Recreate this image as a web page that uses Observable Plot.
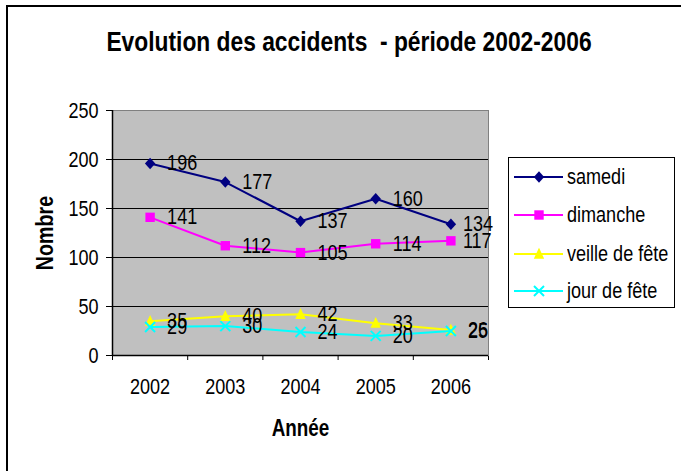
<!DOCTYPE html>
<html><head><meta charset="utf-8">
<script src="https://cdn.jsdelivr.net/npm/d3@7"></script>
<script src="https://cdn.jsdelivr.net/npm/@observablehq/plot@0.6"></script>
<style>
html,body{margin:0;padding:0;background:#fff;overflow:hidden;}
#wrap{position:relative;width:681px;height:471px;overflow:hidden;background:#fff;}
#border{position:absolute;left:6px;top:5px;width:900px;height:700px;border-left:2px solid #000;border-top:2px solid #000;box-sizing:border-box;}
#title{position:absolute;left:0;top:26px;width:698px;text-align:center;font-weight:bold;white-space:pre;line-height:32px;color:#000;transform-origin:349px 50%;}
#chart{position:absolute;left:0;top:0;}
#legend{position:absolute;left:508px;top:157px;width:167px;height:151px;border:1px solid #000;box-sizing:border-box;background:#fff;}
.item{position:absolute;left:0;height:24px;white-space:nowrap;}
.item svg{position:absolute;left:5px;top:2px;}
.item span{position:absolute;left:58px;top:0;line-height:24px;color:#000;transform-origin:0 50%;}
</style>
</head><body>
<div id="wrap">
  <div id="border"></div>
  <div id="chart"></div>
  <div id="title"></div>
  <div id="legend"></div>
</div>
<script>
// ---- data ----
const titleText = "Evolution des accidents  - période 2002-2006";
const xLabel = "Année";
const yLabel = "Nombre";
const years = [2002, 2003, 2004, 2005, 2006];
const seriesNames = ["samedi", "dimanche", "veille de fête", "jour de fête"];
const samedi = [196, 177, 137, 160, 134];
const dimanche = [141, 112, 105, 114, 117];
const veille = [35, 40, 42, 33, 26];
const jour = [29, 30, 24, 20, 25];
const yTicks = [0, 50, 100, 150, 200, 250];
const colors = ["#000080", "#FF00FF", "#FFFF00", "#00FFFF"];

// ---- font detection ----
function fontAvailable(name) {
  const c = document.createElement("canvas").getContext("2d");
  const s = "samedi dimanche 0123456789 WMmwil";
  c.font = "40px monospace"; const a = c.measureText(s).width;
  c.font = `40px "${name}", monospace`; const b = c.measureText(s).width;
  c.font = "40px serif"; const a2 = c.measureText(s).width;
  c.font = `40px "${name}", serif`; const b2 = c.measureText(s).width;
  return a !== b || a2 !== b2;
}
const NARROW = ["Liberation Sans Narrow", "Arial Narrow"].find(fontAvailable);
const FONT = NARROW ? `"${NARROW}", "Liberation Sans", Arial, sans-serif` : `"Liberation Sans", Arial, sans-serif`;
const K = NARROW ? 1 : 0.82; // horizontal condensing when no narrow face exists

// ---- table ----
const allSeries = [samedi, dimanche, veille, jour];
const rows = [];
allSeries.forEach((vals, i) => vals.forEach((v, j) => rows.push({series: seriesNames[i], year: years[j], value: v})));
const bounds = [years[0] - 0.5, ...years.map(y => y + 0.5)];

// ---- symbols ----
const symbols = [
  {draw(ctx, size) { const r = Math.sqrt(size / Math.PI); ctx.moveTo(0, -r * 1.1); ctx.lineTo(r, 0); ctx.lineTo(0, r * 1.1); ctx.lineTo(-r, 0); ctx.closePath(); }},
  {draw(ctx, size) { const r = Math.sqrt(size / Math.PI); ctx.moveTo(-r, -r); ctx.lineTo(r, -r); ctx.lineTo(r, r); ctx.lineTo(-r, r); ctx.closePath(); }},
  {draw(ctx, size) { const r = Math.sqrt(size / Math.PI); ctx.moveTo(0, -r * 1.2); ctx.lineTo(r, r * 0.9); ctx.lineTo(-r, r * 0.9); ctx.closePath(); }},
  {draw(ctx, size) { const r = Math.sqrt(size / Math.PI); ctx.moveTo(-r, -r); ctx.lineTo(r, r); ctx.moveTo(r, -r); ctx.lineTo(-r, r); }}
];
const symR = [5.2, 4.7, 5.2, 5];

const seriesMarks = [];
seriesNames.forEach((name, i) => {
  const data = rows.filter(d => d.series === name);
  seriesMarks.push(Plot.line(data, {x: "year", y: "value", stroke: colors[i], strokeWidth: 2}));
  if (i === 3) {
    seriesMarks.push(Plot.dot(data, {x: "year", y: "value", symbol: symbols[i], r: symR[i], stroke: colors[i], strokeWidth: 2, fill: "none"}));
  } else {
    seriesMarks.push(Plot.dot(data, {x: "year", y: "value", symbol: symbols[i], r: symR[i], fill: colors[i], stroke: "none"}));
  }
});

const lastYear = years[years.length - 1];
const chart = Plot.plot({
  width: 681, height: 471,
  marginLeft: 112, marginRight: 193, marginTop: 110, marginBottom: 116,
  style: {fontFamily: FONT, fontSize: "22px", background: "transparent", color: "#000"},
  x: {type: "linear", domain: [bounds[0], bounds[bounds.length - 1]], ticks: bounds, tickFormat: () => "", tickSize: 5, label: null},
  y: {domain: [0, 250], ticks: yTicks, tickSize: 6, tickPadding: 8, label: null, tickFormat: d => String(d)},
  marks: [
    Plot.frame({fill: "#C0C0C0", stroke: "#808080"}),
    Plot.ruleY(yTicks.filter(t => t > 0 && t < 250), {stroke: "#000", strokeWidth: 1}),
    Plot.ruleY([0], {stroke: "#000", strokeWidth: 1.5}),
    Plot.ruleX([bounds[0]], {stroke: "#000", strokeWidth: 1.5}),
    ...seriesMarks,
    Plot.text(rows.filter(d => !(d.year === lastYear && d.value > 100)), {x: "year", y: "value", text: d => String(d.value), dx: 17, textAnchor: "start", fill: "#000", fontSize: 22}),
    Plot.text(rows.filter(d => d.year === lastYear && d.value > 100), {x: "year", y: "value", text: d => String(d.value), dx: 12, textAnchor: "start", fill: "#000", fontSize: 22}),
    Plot.text(years, {x: d => d, frameAnchor: "bottom", lineAnchor: "middle", dy: 31, text: d => String(d), fill: "#000", fontSize: 22}),
    Plot.text([xLabel], {frameAnchor: "bottom", lineAnchor: "middle", textAnchor: "middle", dy: 73, text: d => d, fontWeight: "bold", fill: "#000", fontSize: 23}),
    Plot.text([yLabel], {frameAnchor: "left", lineAnchor: "middle", textAnchor: "middle", dx: -67, rotate: -90, text: d => d, fontWeight: "bold", fill: "#000", fontSize: 24})
  ]
});
document.getElementById("chart").appendChild(chart);

// condense every SVG text horizontally around its anchor
function condense(svg, k) {
  if (k === 1) return;
  svg.querySelectorAll("text").forEach(el => {
    const b = el.getBBox();
    if (!b.width) return;
    const anchor = getComputedStyle(el).textAnchor;
    const ax = anchor === "end" ? b.x + b.width : anchor === "middle" ? b.x + b.width / 2 : b.x;
    const prev = el.getAttribute("transform") || "";
    el.setAttribute("transform", `${prev} translate(${ax},0) scale(${k},1) translate(${-ax},0)`.trim());
  });
}
condense(chart, K);

// ---- title ----
const t = document.getElementById("title");
t.textContent = titleText;
t.style.fontFamily = FONT;
t.style.fontSize = "27.8px";
t.style.transform = `scaleX(${K})`;

// ---- legend ----
const legend = document.getElementById("legend");
const itemTops = [7, 45, 84, 121];
seriesNames.forEach((name, i) => {
  const div = document.createElement("div");
  div.className = "item";
  div.style.top = itemTops[i] + "px";
  const svg = d3.create("svg").attr("width", 50).attr("height", 20);
  svg.append("line").attr("x1", 0).attr("x2", 49).attr("y1", 10).attr("y2", 10).attr("stroke", colors[i]).attr("stroke-width", 2);
  const p = d3.path();
  symbols[i].draw(p, Math.PI * symR[i] * symR[i]);
  const path = svg.append("path").attr("transform", "translate(25,10)").attr("d", p.toString());
  if (i === 3) path.attr("fill", "none").attr("stroke", colors[i]).attr("stroke-width", 2);
  else path.attr("fill", colors[i]);
  div.appendChild(svg.node());
  const span = document.createElement("span");
  span.textContent = name;
  span.style.fontFamily = FONT;
  span.style.fontSize = "22px";
  span.style.transform = `scaleX(${K})`;
  div.appendChild(span);
  legend.appendChild(div);
});
</script>
</body></html>
